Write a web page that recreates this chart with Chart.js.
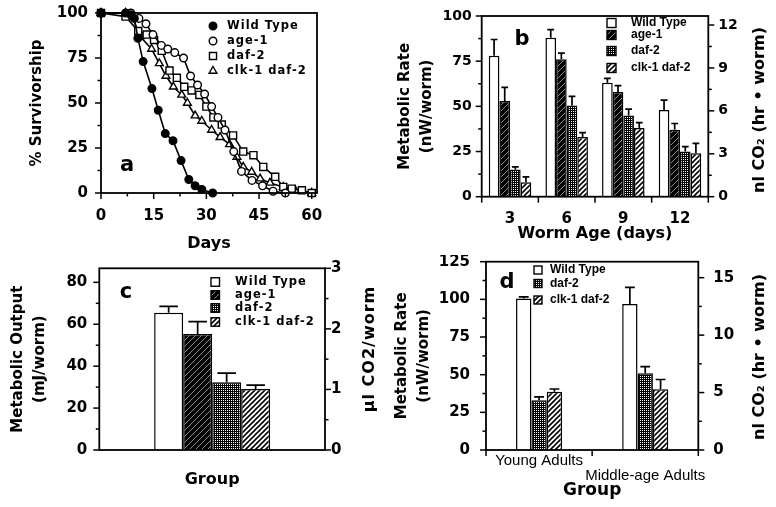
<!DOCTYPE html>
<html>
<head>
<meta charset="utf-8">
<script src="https://cdn.jsdelivr.net/npm/chart.js@4.4.0/dist/chart.umd.min.js"></script>
<style>
    body { margin: 0; background: #fff; width: 776px; height: 507px; position: relative; overflow: hidden; }
    canvas { position: absolute; }
</style>
</head>
<body>
<canvas id="chartA" width="330" height="255" style="left:0;top:0"></canvas>
<canvas id="chartB" width="446" height="255" style="left:330px;top:0"></canvas>
<canvas id="chartC" width="385" height="252" style="left:0;top:255px"></canvas>
<canvas id="chartD" width="391" height="252" style="left:385px;top:255px"></canvas>
<script>
// a: survival curves (day, % alive)
const wtDays = [0, 7, 8.5, 9.5, 10.5, 12, 14.5, 16.3, 18.3, 20.5, 22.8, 25, 26.8, 28.7, 31.8];
const wtSurv = [100, 100, 99, 97, 86, 73, 58, 46, 33, 29, 18, 7.5, 4, 2, 0];
const age1Days = [0, 8.5, 10.8, 12.8, 14.8, 17.2, 19, 21, 23.5, 25.5, 27.5, 29.5, 31.5, 33.3, 35.3, 37.8, 40, 43, 46, 49, 52.5];
const age1Surv = [100, 100, 97, 94, 88, 82, 80, 78, 75, 65, 60, 55, 48, 42, 35, 23, 12, 7, 4, 1, 0];
const daf2Days = [0, 7, 10.6, 13, 15.1, 17.3, 19.5, 21.6, 23.7, 25.8, 28, 30, 32, 34.4, 37.6, 40.5, 43.4, 46.2, 49.6, 51.9, 54.3, 57.2, 60];
const daf2Surv = [100, 98, 90, 88, 85, 79, 68, 64, 59, 57, 54.5, 48, 42, 38, 32, 23, 21, 14.5, 9, 3.4, 2.4, 1.5, 0];
const clk1Days = [0, 7, 8.9, 11.1, 14.4, 16.6, 18.5, 20.6, 23, 24.6, 26.8, 28.7, 31.5, 33.9, 36.6, 38.7, 40.5, 42.9, 45.3, 48.1, 51.9, 55.3, 60];
const clk1Surv = [100, 100, 98, 87, 80, 72, 65, 59, 54.5, 50, 43, 40, 35, 31, 27, 20, 14.5, 11.7, 8, 5.6, 3.3, 1.5, 0];
const survXTicks = [0, 15, 30, 45, 60];
const survXMinor = [7.5, 22.5, 37.5, 52.5];
const survYTicks = [0, 25, 50, 75, 100];
const survYMinor = [12.5, 37.5, 62.5, 87.5];

// b: metabolic rate by worm age
const wormAges = ['3', '6', '9', '12'];
const rateWT = [78, 88, 63, 48];
const rateWTErr = [9, 4.5, 2.5, 5.5];
const rateAge1 = [53, 76, 58, 37];
const rateAge1Err = [7.5, 3.5, 3.5, 3.5];
const rateDaf2 = [15, 50.5, 45, 25];
const rateDaf2Err = [1.5, 5, 3.5, 2.7];
const rateClk1 = [8, 33, 38, 24];
const rateClk1Err = [3, 2.5, 3, 5.5];
const rateTicks = [0, 25, 50, 75, 100];
const rateMinor = [12.5, 37.5, 62.5, 87.5];
const co2Ticks = [0, 3, 6, 9, 12];
const co2Minor = [1.5, 4.5, 7.5, 10.5];

// c: total metabolic output
const outputGroups = ['Wild Type', 'age-1', 'daf-2', 'clk-1 daf-2'];
const outputValues = [65.5, 55.3, 32.3, 29.1];
const outputErrors = [3, 6, 4.4, 1.9];
const outputTicks = [0, 20, 40, 60, 80];
const outputMinor = [10, 30, 50, 70];
const ulTicks = [0, 1, 2, 3];
const ulMinor = [0.5, 1.5, 2.5];

// d: young vs middle-age adults
const adultGroups = ['Young Adults', 'Middle-age Adults'];
const adultWT = [100.5, 97];
const adultWTErr = [1.2, 11];
const adultDaf2 = [33, 51];
const adultDaf2Err = [2.3, 4.3];
const adultClk1 = [38.7, 40.3];
const adultClk1Err = [1.8, 6.5];
const adultTicks = [0, 25, 50, 75, 100, 125];
const adultMinor = [12.5, 37.5, 62.5, 87.5, 112.5];
const nlTicks = [0, 5, 10, 15];
const nlMinor = [2.5, 7.5, 12.5];

Chart.defaults.font.family = 'DejaVu Sans';
Chart.defaults.font.weight = 'bold';
Chart.defaults.color = '#000';

function makePattern(kind) {
    const c = document.createElement('canvas');
    const g = c.getContext('2d');
    if (kind === 'dots') {
        c.width = c.height = 2;
        g.fillStyle = '#000'; g.fillRect(0, 0, 2, 2);
        g.fillStyle = '#fff'; g.fillRect(1, 1, 1, 1);
        return g.createPattern(c, 'repeat');
    }
    const n = kind === 'dark' ? 6 : 5;
    c.width = c.height = n;
    g.fillStyle = kind === 'dark' ? '#000' : '#fff';
    g.fillRect(0, 0, n, n);
    g.strokeStyle = kind === 'dark' ? 'rgba(255,255,255,0.7)' : '#000';
    g.lineWidth = kind === 'dark' ? 0.8 : 1.6;
    g.beginPath();
    g.moveTo(0, n); g.lineTo(n, 0);
    g.moveTo(-1, 1); g.lineTo(1, -1);
    g.moveTo(n - 1, n + 1); g.lineTo(n + 1, n - 1);
    g.stroke();
    return g.createPattern(c, 'repeat');
}
const fillWT = '#fff';
const fillAge1 = makePattern('dark');
const fillDaf2 = makePattern('dots');
const fillClk1 = makePattern('light');

function pts(xs, ys) { return xs.map((x, i) => ({ x: x, y: ys[i] })); }
// fixed axis sizes so the plot areas line up with the figure; no extra label padding
function fixSize(w, h) {
    return function (scale) {
        if (w != null) scale.width = w;
        if (h != null) scale.height = h;
        scale.paddingTop = 0; scale.paddingBottom = 0;
        scale.paddingLeft = 0; scale.paddingRight = 0;
    };
}
function setTicks(values) {
    return function (scale) { scale.ticks = values.map(v => ({ value: v })); };
}
const noGrid = { display: false, drawTicks: false, tickLength: 0 };

// frame, tick marks, error bars, legend, panel letter, right-hand title
const decorations = {
    id: 'decorations',
    afterDraw(chart, args, o) {
        const ctx = chart.ctx, area = chart.chartArea;
        ctx.save();
        ctx.strokeStyle = '#000';
        ctx.fillStyle = '#000';

        chart.data.datasets.forEach((ds, di) => {
            if (!ds.errors) return;
            const meta = chart.getDatasetMeta(di);
            const ys = chart.scales[meta.yAxisID];
            meta.data.forEach((bar, i) => {
                const top = ys.getPixelForValue(ds.data[i] + ds.errors[i]);
                const cap = bar.width * 0.32;
                ctx.lineWidth = 1.7;
                ctx.beginPath();
                ctx.moveTo(bar.x, bar.y); ctx.lineTo(bar.x, top);
                ctx.moveTo(bar.x - cap, top); ctx.lineTo(bar.x + cap, top);
                ctx.stroke();
            });
        });

        ctx.lineWidth = 1.8;
        ctx.strokeRect(area.left, area.top, area.right - area.left, area.bottom - area.top);

        ctx.lineWidth = 1.5;
        (o.marks || []).forEach(m => {
            const sc = chart.scales[m.id];
            const draw = (vals, len) => vals.forEach(v => {
                const p = sc.getPixelForValue(v);
                ctx.beginPath();
                if (m.side === 'left') { ctx.moveTo(area.left, p); ctx.lineTo(area.left - len, p); }
                if (m.side === 'right') { ctx.moveTo(area.right, p); ctx.lineTo(area.right + len, p); }
                if (m.side === 'bottom') { ctx.moveTo(p, area.bottom); ctx.lineTo(p, area.bottom + len); }
                ctx.stroke();
            });
            draw(m.major, 6);
            draw(m.minor || [], 3.5);
        });

        const lg = o.legend;
        if (lg) {
            ctx.font = lg.font;
            if ('letterSpacing' in ctx) ctx.letterSpacing = lg.spacing || '0px';
            ctx.textBaseline = 'middle';
            ctx.textAlign = 'left';
            chart.data.datasets.forEach((ds, i) => {
                const y = lg.rows[i];
                ctx.lineWidth = 1.4;
                if (lg.points) {
                    ctx.fillStyle = ds.pointBackgroundColor;
                    Chart.helpers.drawPoint(ctx, { pointStyle: ds.pointStyle, radius: ds.pointRadius, borderWidth: 1.4, rotation: 0 }, lg.x, y);
                } else {
                    ctx.fillStyle = ds.backgroundColor;
                    ctx.fillRect(lg.x, y - lg.box / 2, lg.box, lg.box);
                    ctx.strokeRect(lg.x, y - lg.box / 2, lg.box, lg.box);
                }
                ctx.fillStyle = '#000';
                ctx.fillText(ds.label, lg.textX, y);
            });
            if ('letterSpacing' in ctx) ctx.letterSpacing = '0px';
        }

        if (o.letter) {
            ctx.font = 'bold 21px "DejaVu Sans"';
            ctx.textAlign = 'center';
            ctx.textBaseline = 'middle';
            ctx.fillText(o.letter.text, o.letter.x, o.letter.y);
        }

        if (o.rightTitle) {
            const t = o.rightTitle;
            ctx.font = t.font;
            if ('letterSpacing' in ctx) ctx.letterSpacing = t.spacing || '0px';
            ctx.translate(t.x, t.y);
            ctx.rotate(-Math.PI / 2);
            ctx.textAlign = 'center';
            ctx.textBaseline = 'middle';
            ctx.fillText(t.text, 0, 0);
        }
        ctx.restore();
    }
};

const base = { responsive: false, animation: false, devicePixelRatio: 1 };
const hidden = { legend: { display: false }, tooltip: { enabled: false } };

// panel a
function survSet(label, xs, ys, style, radius, fill) {
    return {
        label: label, data: pts(xs, ys), pointStyle: style, pointRadius: radius,
        pointBackgroundColor: fill, borderColor: '#000', pointBorderColor: '#000',
        pointBorderWidth: 1.4, borderWidth: 1.6, tension: 0, showLine: true, clip: false
    };
}
new Chart(document.getElementById('chartA'), {
    type: 'line',
    data: {
        datasets: [
            survSet('Wild Type', wtDays, wtSurv, 'circle', 3.8, '#000'),
            survSet('age-1', age1Days, age1Surv, 'circle', 3.8, '#fff'),
            survSet('daf-2', daf2Days, daf2Surv, 'rect', 5, '#fff'),
            survSet('clk-1 daf-2', clk1Days, clk1Surv, 'triangle', 4.5, '#fff')
        ]
    },
    options: Object.assign({}, base, {
        layout: { padding: { left: 0, top: 13, right: 13, bottom: 0 } },
        scales: {
            x: {
                type: 'linear', bounds: 'data', suggestedMin: 0, suggestedMax: 61.5,
                afterBuildTicks: setTicks(survXTicks), afterFit: fixSize(null, 62),
                grid: noGrid, border: { display: false },
                ticks: { padding: 14, font: { size: 15 }, maxRotation: 0 },
                title: { display: true, text: 'Days', font: { size: 16 }, padding: { top: 0, bottom: 2 } }
            },
            y: {
                min: 0, max: 100,
                afterBuildTicks: setTicks(survYTicks), afterFit: fixSize(101),
                grid: noGrid, border: { display: false },
                ticks: { padding: 13, font: { size: 15 } },
                title: { display: true, text: '% Survivorship', font: { size: 15 }, padding: { top: 28 } }
            }
        },
        plugins: Object.assign({}, hidden, {
            decorations: {
                marks: [
                    { id: 'y', side: 'left', major: survYTicks, minor: survYMinor },
                    { id: 'x', side: 'bottom', major: survXTicks, minor: survXMinor }
                ],
                legend: { points: true, x: 213, textX: 227, rows: [26, 41, 56, 71], font: 'bold 11.5px "DejaVu Sans"', spacing: '1px' },
                letter: { text: 'a', x: 127, y: 166 }
            }
        })
    }),
    plugins: [decorations]
});

// panel b
function barSet(label, data, errors, fill, axis) {
    return {
        label: label, data: data, errors: errors, backgroundColor: fill,
        borderColor: '#000', borderWidth: 1.5, yAxisID: axis || 'y'
    };
}
new Chart(document.getElementById('chartB'), {
    type: 'bar',
    data: {
        labels: wormAges,
        datasets: [
            barSet('Wild Type', rateWT, rateWTErr, fillWT),
            barSet('age-1', rateAge1, rateAge1Err, fillAge1),
            barSet('daf-2', rateDaf2, rateDaf2Err, fillDaf2),
            barSet('clk-1 daf-2', rateClk1, rateClk1Err, fillClk1)
        ]
    },
    options: Object.assign({}, base, {
        layout: { padding: { left: 0, top: 16, right: 0, bottom: 0 } },
        datasets: { bar: { categoryPercentage: 0.75, barPercentage: 1 } },
        scales: {
            x: {
                afterFit: fixSize(null, 58.3),
                grid: noGrid, border: { display: false },
                ticks: { padding: 13, font: { size: 15 } },
                title: { display: true, text: 'Worm Age (days)', font: { size: 16 }, padding: { top: 0, bottom: 12 } }
            },
            y: {
                min: 0, max: 100,
                afterBuildTicks: setTicks(rateTicks), afterFit: fixSize(151.7),
                grid: noGrid, border: { display: false },
                ticks: { padding: 10, font: { size: 14 } },
                title: { display: true, text: ['Metabolic Rate', '(nW/worm)'], font: { size: 15, lineHeight: 1.45 }, padding: { top: 64 } }
            },
            y2: {
                position: 'right', min: 0, max: 12.63,
                afterBuildTicks: setTicks(co2Ticks), afterFit: fixSize(67.7),
                grid: noGrid, border: { display: false },
                ticks: { padding: 10, font: { size: 14 } }
            }
        },
        plugins: Object.assign({}, hidden, {
            decorations: {
                marks: [
                    { id: 'y', side: 'left', major: rateTicks, minor: rateMinor },
                    { id: 'y2', side: 'right', major: co2Ticks, minor: co2Minor },
                    { id: 'x', side: 'bottom', major: [-0.5, 0.5, 1.5, 2.5, 3.5] }
                ],
                legend: { x: 277, box: 9, textX: 301, rows: [23, 35, 51, 68], font: 'bold 12px "Liberation Sans"' },
                letter: { text: 'b', x: 192, y: 40 },
                rightTitle: { text: 'nl CO₂ (hr • worm)', x: 430, y: 110, font: 'bold 16px "DejaVu Sans"' }
            }
        })
    }),
    plugins: [decorations]
});

// panel c
const fillsByGroup = [fillWT, fillAge1, fillDaf2, fillClk1];
new Chart(document.getElementById('chartC'), {
    type: 'bar',
    data: {
        labels: ['Group'],
        datasets: outputGroups.map((g, i) => barSet(g, [outputValues[i]], [outputErrors[i]], fillsByGroup[i]))
    },
    options: Object.assign({}, base, {
        layout: { padding: { left: 0, top: 13.3, right: 0, bottom: 0 } },
        datasets: { bar: { categoryPercentage: 0.514, barPercentage: 1 } },
        scales: {
            x: {
                afterFit: fixSize(null, 57),
                grid: noGrid, border: { display: false },
                ticks: { display: false },
                title: { display: true, text: 'Group', font: { size: 16 }, padding: { top: 0, bottom: 18 } }
            },
            y: {
                min: 0, max: 86.7,
                afterBuildTicks: setTicks(outputTicks), afterFit: fixSize(99.3),
                grid: noGrid, border: { display: false },
                ticks: { padding: 12, font: { size: 15 } },
                title: { display: true, text: ['Metabolic Output', '(mJ/worm)'], font: { size: 15, lineHeight: 1.45 }, padding: { top: 7 } }
            },
            y2: {
                position: 'right', min: 0, max: 3,
                afterBuildTicks: setTicks(ulTicks), afterFit: fixSize(60),
                grid: noGrid, border: { display: false },
                ticks: { padding: 6, font: { size: 15 } }
            }
        },
        plugins: Object.assign({}, hidden, {
            decorations: {
                marks: [
                    { id: 'y', side: 'left', major: outputTicks, minor: outputMinor },
                    { id: 'y2', side: 'right', major: ulTicks, minor: ulMinor }
                ],
                legend: { x: 211, box: 8.5, textX: 235, rows: [27, 40, 53, 67], font: 'bold 11.5px "DejaVu Sans"', spacing: '1px' },
                letter: { text: 'c', x: 126, y: 38 },
                rightTitle: { text: 'µl CO2/worm', x: 370, y: 94, font: 'bold 16px "DejaVu Sans"', spacing: '1px' }
            }
        })
    }),
    plugins: [decorations]
});

// panel d
new Chart(document.getElementById('chartD'), {
    type: 'bar',
    data: {
        labels: adultGroups,
        datasets: [
            barSet('Wild Type', adultWT, adultWTErr, fillWT),
            barSet('daf-2', adultDaf2, adultDaf2Err, fillDaf2),
            barSet('clk-1 daf-2', adultClk1, adultClk1Err, fillClk1)
        ]
    },
    options: Object.assign({}, base, {
        layout: { padding: { left: 0, top: 6.7, right: 0, bottom: 0 } },
        datasets: { bar: { categoryPercentage: 0.434, barPercentage: 1 } },
        scales: {
            x: {
                afterFit: fixSize(null, 57),
                grid: noGrid, border: { display: false },
                ticks: {
                    padding: 3, maxRotation: 0, autoSkip: false,
                    font: { family: 'Liberation Sans', weight: 'normal', size: 15, lineHeight: 1.0 },
                    callback: function (v, i) { return i === 1 ? ['', adultGroups[i]] : adultGroups[i]; }
                },
                title: { display: true, text: 'Group', font: { size: 17 }, padding: { top: 0, bottom: 6 } }
            },
            y: {
                min: 0, max: 125,
                afterBuildTicks: setTicks(adultTicks), afterFit: fixSize(101),
                grid: noGrid, border: { display: false },
                ticks: { padding: 16, font: { size: 15 } },
                title: { display: true, text: ['Metabolic Rate', '(nW/worm)'], font: { size: 15, lineHeight: 1.45 }, padding: { top: 6 } }
            },
            y2: {
                position: 'right', min: 0, max: 16.39,
                afterBuildTicks: setTicks(nlTicks), afterFit: fixSize(77.7),
                grid: noGrid, border: { display: false },
                ticks: { padding: 15, font: { size: 15 } }
            }
        },
        plugins: Object.assign({}, hidden, {
            decorations: {
                marks: [
                    { id: 'y', side: 'left', major: adultTicks, minor: adultMinor },
                    { id: 'y2', side: 'right', major: nlTicks, minor: nlMinor },
                    { id: 'x', side: 'bottom', major: [-0.5, 0.5, 1.5] }
                ],
                legend: { x: 149, box: 8, textX: 165, rows: [15, 28.5, 45], font: 'bold 12px "Liberation Sans"' },
                letter: { text: 'd', x: 122, y: 28 },
                rightTitle: { text: 'nl CO₂ (hr • worm)', x: 375, y: 102, font: 'bold 16px "DejaVu Sans"' }
            }
        })
    }),
    plugins: [decorations]
});
</script>
</body>
</html>
